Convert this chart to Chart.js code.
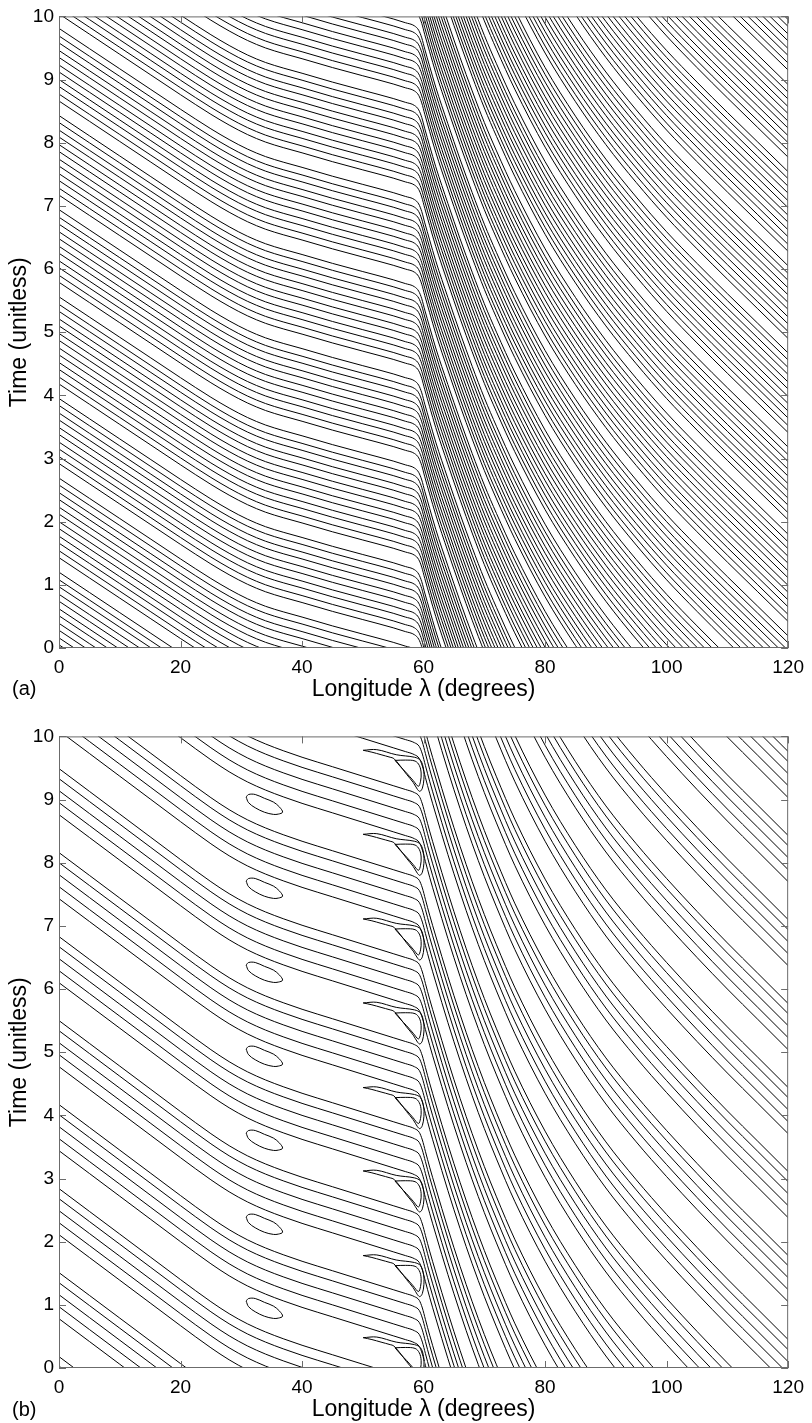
<!DOCTYPE html>
<html>
<head>
<meta charset="utf-8">
<script src="https://cdn.jsdelivr.net/npm/chart.js@4.4.1/dist/chart.umd.min.js"></script>
<style>
  html, body { margin: 0; padding: 0; background: #fff; }
  #wrap { position: relative; width: 812px; height: 1423px; overflow: hidden; }
  canvas { position: absolute; left: 0; }
  #chartA { top: 0; }
  #chartB { top: 720px; }
  .tag { position: absolute; left: 12px; font: 20px "Liberation Sans", Arial, sans-serif; color: #000; line-height: 23px; }
</style>
</head>
<body>
<div id="wrap">
  <canvas id="chartA" width="812" height="705"></canvas>
  <canvas id="chartB" width="812" height="705"></canvas>
  <div class="tag" style="top:677px">(a)</div>
  <div class="tag" style="top:1398px">(b)</div>
</div>
<script>
(function () {
  'use strict';

  var LON_TICKS = [0, 20, 40, 60, 80, 100, 120];
  var TIME_TICKS = [0, 1, 2, 3, 4, 5, 6, 7, 8, 9, 10];

  // panel (a): one contour, time relative to its value at lambda = 0
  var A_LON = [0, 5, 10, 15, 20, 25, 28, 31, 34, 37, 40, 45, 50, 55, 57, 58.5, 59.2, 59.7, 60.2, 61, 62, 64, 66, 68, 70, 72, 75, 80, 85, 90, 95, 100, 105, 110, 115, 120];
  var A_T = [0, -0.32, -0.64, -0.96, -1.28, -1.59, -1.76, -1.91, -2.03, -2.12, -2.2, -2.34, -2.47, -2.6, -2.66, -2.71, -2.78, -2.9, -3.08, -3.35, -3.68, -4.26, -4.82, -5.35, -5.85, -6.3, -6.93, -7.85, -8.62, -9.3, -9.9, -10.45, -10.95, -11.43, -11.9, -12.37];
  // where each contour of (a) sits (its time at lambda = 0)
  var A_LEVELS = [
    0.05, 0.16, 0.28, 0.39, 0.51, 0.62, 0.74, 0.85, 0.97, 1.08, 1.20,
    1.43, 1.54, 1.66, 1.77, 1.89, 2.00, 2.12, 2.23, 2.35, 2.46, 2.58, 2.69,
    2.92, 3.03, 3.15, 3.26, 3.38, 3.49, 3.61, 3.72, 3.84, 3.95,
    4.18, 4.29, 4.41, 4.52, 4.64, 4.75, 4.87, 4.98, 5.10, 5.21, 5.33, 5.44, 5.56,
    5.79, 5.90, 6.02, 6.13, 6.25, 6.36, 6.48, 6.59, 6.71, 6.82, 6.94,
    7.17, 7.28, 7.40, 7.51, 7.63, 7.74, 7.86, 7.97, 8.09, 8.20, 8.32, 8.43,
    8.66, 8.77, 8.89, 9.00, 9.12, 9.23, 9.35, 9.46, 9.58, 9.69, 9.81,
    10.04, 10.15, 10.27, 10.38, 10.50, 10.61, 10.73, 10.84, 10.96, 11.07, 11.19, 11.30,
    11.53, 11.64, 11.76, 11.87, 11.99, 12.10, 12.22, 12.33, 12.45, 12.56,
    12.79, 12.90, 13.02, 13.13, 13.25, 13.36, 13.48, 13.59, 13.71, 13.82, 13.94, 14.05, 14.17,
    14.40, 14.51, 14.63, 14.74, 14.86, 14.97, 15.09, 15.20, 15.32, 15.43, 15.55,
    15.78, 15.89, 16.01, 16.12, 16.24, 16.35, 16.47, 16.58, 16.70, 16.81, 16.93, 17.04,
    17.27, 17.38, 17.50, 17.61, 17.73, 17.84, 17.96, 18.07, 18.19, 18.30, 18.42,
    18.65, 18.76, 18.88, 18.99, 19.11, 19.22, 19.34, 19.45, 19.57, 19.68, 19.80, 19.91,
    20.14, 20.25, 20.37, 20.48, 20.60, 20.71, 20.83, 20.94, 21.06, 21.17, 21.29,
    21.52, 21.63, 21.75, 21.86, 21.98, 22.09, 22.21, 22.32
  ];

  // panel (b): same idea
  var B_LON = [0, 5, 10, 15, 20, 25, 28, 31, 34, 37, 40, 45, 50, 55, 57, 58.5, 59.3, 59.8, 60.3, 61, 62, 64, 66, 68, 70, 72, 75, 80, 85, 90, 95, 100, 105, 110, 115, 120];
  var B_T = [0, -0.36, -0.72, -1.08, -1.44, -1.79, -1.98, -2.14, -2.27, -2.38, -2.48, -2.63, -2.78, -2.93, -2.99, -3.04, -3.1, -3.22, -3.4, -3.65, -3.98, -4.62, -5.22, -5.78, -6.3, -6.78, -7.45, -8.4, -9.2, -9.9, -10.5, -11.05, -11.57, -12.07, -12.55, -13.03];
  var B_LEVELS = [
    0.03, 0.18,
    0.78, 0.97, 1.16, 1.35, 1.51,
    2.11, 2.30, 2.49, 2.68, 2.84,
    3.44, 3.63, 3.82, 4.01, 4.17,
    4.77, 4.96, 5.15, 5.34, 5.50,
    6.10, 6.29, 6.48, 6.67, 6.83,
    7.43, 7.62, 7.81, 8.00, 8.16,
    8.76, 8.95, 9.14, 9.33, 9.49,
    10.09, 10.28, 10.47, 10.66, 10.82,
    11.42, 11.61, 11.80, 11.99, 12.15,
    12.75, 12.94, 13.13, 13.32, 13.48,
    14.08, 14.27, 14.46, 14.65, 14.81,
    15.41, 15.60, 15.79, 15.98, 16.14,
    16.74, 16.93, 17.12, 17.31, 17.47,
    18.07, 18.26, 18.45, 18.64, 18.80,
    19.40, 19.59, 19.78, 19.97, 20.13,
    20.73, 20.92, 21.11, 21.30, 21.46,
    22.06, 22.25, 22.44, 22.63, 22.79
  ];

  // closed ovals near lambda 31-37
  var OVAL_LON = 33.8;
  var OVAL_TIMES = [0.94, 2.27, 3.60, 4.93, 6.26, 7.59, 8.92];
  var OVAL_DLON = [-3.0, -2.6, -1.5, 0, 1.5, 2.5, 3.0, 2.3, 1.5, 0, -1.5, -2.6, -3.0];
  var OVAL_DT = [0.12, 0.16, 0.16, 0.1, 0.04, -0.04, -0.12, -0.15, -0.155, -0.12, -0.05, 0.03, 0.12];

  // small closed triangles just west of 60
  var TRI_LON = 57.6;
  var TRI_TIMES = [0.12, 1.42, 2.76, 4.08, 5.42, 6.75, 8.09, 9.42];
  var TRI_DLON = [-2.3, -0.6, 1.0, 1.7, 2.0, 1.9, 1.55, 0.7, -0.4, -1.4, -2.3];
  var TRI_DT = [0.2, 0.205, 0.19, 0.12, 0.0, -0.13, -0.21, -0.12, 0.0, 0.1, 0.2];

  // pointed tongues wrapped round each triangle (longitude absolute, time relative to the triangle)
  var TONGUE_LON = [50.06, 52.3, 55.5, 58.5, 59.5, 60.0, 60.05, 59.8, 59.4, 59.0, 58.3, 57.2, 56.1, 55.1, 54.5, 53.0, 51.5, 50.06];
  var TONGUE_DT = [0.36, 0.37, 0.29, 0.25, 0.2, 0.06, -0.1, -0.24, -0.29, -0.26, -0.15, -0.02, 0.12, 0.23, 0.25, 0.29, 0.33, 0.36];

  var FONT = '"Liberation Sans", Arial, Helvetica, sans-serif';
  var INK = '#000';
  var FRAME = '#6b6b6b';

  function contour(lon, t, shift) {
    return lon.map(function (x, i) { return { x: x, y: t[i] + shift }; });
  }

  function loop(lon0, dlon, t0, dt) {
    return dlon.map(function (d, i) { return { x: lon0 + d, y: t0 + dt[i] }; });
  }

  function openLine(points) {
    return { data: points, showLine: true, borderColor: INK, borderWidth: 1, pointRadius: 0, cubicInterpolationMode: 'monotone', clip: 0 };
  }

  function closedLine(points) {
    return { data: points, showLine: true, borderColor: INK, borderWidth: 1, pointRadius: 0, tension: 0.35, clip: 0 };
  }

  var frameTicks = {
    id: 'frameTicks',
    afterDraw: function (chart) {
      var ctx = chart.ctx;
      var a = chart.chartArea;
      var xs = chart.scales.x;
      var ys = chart.scales.y;
      var len = 7;
      ctx.save();
      ctx.strokeStyle = FRAME;
      ctx.lineWidth = 1;
      ctx.beginPath();
      xs.ticks.forEach(function (tk) {
        var px = Math.round(xs.getPixelForValue(tk.value)) + 0.5;
        ctx.moveTo(px, a.bottom);
        ctx.lineTo(px, a.bottom - len);
        ctx.moveTo(px, a.top);
        ctx.lineTo(px, a.top + len);
      });
      ys.ticks.forEach(function (tk) {
        var py = Math.round(ys.getPixelForValue(tk.value)) + 0.5;
        ctx.moveTo(a.left, py);
        ctx.lineTo(a.left + len, py);
        ctx.moveTo(a.right, py);
        ctx.lineTo(a.right - len, py);
      });
      ctx.stroke();
      ctx.strokeRect(a.left + 0.5, a.top + 0.5, a.right - a.left - 1, a.bottom - a.top - 1);
      ctx.restore();
    }
  };

  function makeChart(id, datasets) {
    var ctx = document.getElementById(id).getContext('2d');
    return new Chart(ctx, {
      type: 'scatter',
      data: { datasets: datasets },
      options: {
        responsive: false,
        animation: false,
        devicePixelRatio: 1,
        events: [],
        layout: { padding: { top: 14, right: 17, left: 0, bottom: 0 } },
        plugins: { legend: { display: false }, tooltip: { enabled: false } },
        scales: {
          x: {
            type: 'linear', min: 0, max: 120,
            afterBuildTicks: function (s) { s.ticks = LON_TICKS.map(function (v) { return { value: v }; }); },
            afterFit: function (s) { s.height = 57; },
            grid: { display: false, drawTicks: false },
            border: { display: false },
            ticks: { color: INK, font: { family: FONT, size: 19 }, padding: 8, maxRotation: 0 },
            title: { display: true, text: 'Longitude λ (degrees)', color: INK, font: { family: FONT, size: 23 }, padding: { top: 0, bottom: 2 } }
          },
          y: {
            type: 'linear', min: 0, max: 10,
            afterBuildTicks: function (s) { s.ticks = TIME_TICKS.map(function (v) { return { value: v }; }); },
            afterFit: function (s) { s.width = 59; },
            grid: { display: false, drawTicks: false },
            border: { display: false },
            ticks: { color: INK, font: { family: FONT, size: 19 }, padding: 5 },
            title: { display: true, text: 'Time (unitless)', color: INK, font: { family: FONT, size: 23 }, padding: { top: 6, bottom: 0 } }
          }
        }
      },
      plugins: [frameTicks]
    });
  }

  var setA = A_LEVELS.map(function (c) { return openLine(contour(A_LON, A_T, c)); });

  var setB = B_LEVELS.map(function (c) { return openLine(contour(B_LON, B_T, c)); });
  OVAL_TIMES.forEach(function (t) { setB.push(closedLine(loop(OVAL_LON, OVAL_DLON, t, OVAL_DT))); });
  TRI_TIMES.forEach(function (t) {
    setB.push(closedLine(loop(TRI_LON, TRI_DLON, t, TRI_DT)));
    setB.push(closedLine(loop(0, TONGUE_LON, t, TONGUE_DT)));
  });

  makeChart('chartA', setA);
  makeChart('chartB', setB);
})();
</script>
</body>
</html>
